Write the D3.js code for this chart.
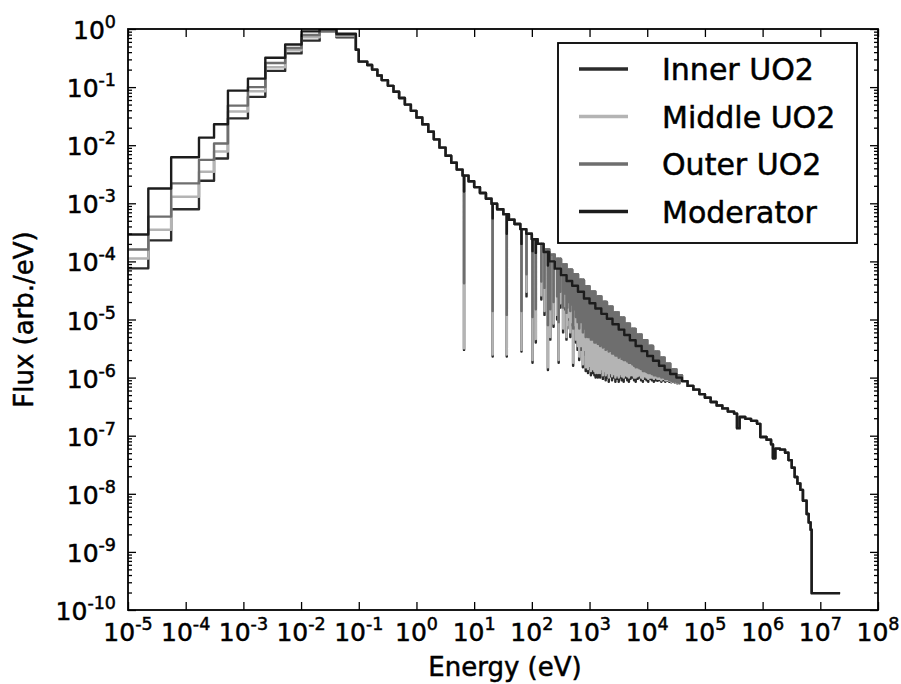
<!DOCTYPE html>
<html><head><meta charset="utf-8">
<script src="https://cdn.jsdelivr.net/npm/d3@7"></script>
<style>
body{margin:0;background:#fff}
text{font-family:"DejaVu Sans",sans-serif;fill:#000;stroke:#000;stroke-width:0.5px}
</style>
</head><body>
<svg id="c" width="901" height="684"></svg>
<script>
// ---------- DATA ----------
const seriesNames = ["Inner UO2", "Middle UO2", "Outer UO2", "Moderator"];
const seriesColors = ["#2b2b2b", "#b4b4b4", "#6e6e6e", "#1c1c1c"];

// thermal histogram bins (lower edges, eV)
const thermalEdges = [1e-5, 2.25e-5, 5.6e-5, 1.7e-4, 3.1e-4, 5.4e-4, 1.2e-3, 2.4e-3, 5.3e-3, 1.02e-2, 2.1e-2, 4.1e-2];
const innerThermal  = [7.6e-5, 2.3e-4, 7.9e-4, 2.45e-3, 5.9e-3, 2.9e-2, 6.8e-2, 0.19, 0.38, 0.63, 0.91, 0.72];
const middleThermal = [1.12e-4, 3.5e-4, 1.3e-3, 3.5e-3, 7.8e-3, 3.8e-2, 8.5e-2, 0.22, 0.43, 0.72, 0.95, 0.76];
const outerThermal  = [1.6e-4, 5.9e-4, 2.2e-3, 5.6e-3, 1.07e-2, 4.8e-2, 0.10, 0.26, 0.47, 0.79, 0.98, 0.79];
const modThermal    = [2.9e-4, 1.8e-3, 6.2e-3, 1.35e-2, 2.3e-2, 8.7e-2, 0.14, 0.32, 0.54, 0.91, 0.99, 0.83];

// slowing-down / fast groups (lower edges, eV)
const envE = [0.089, 0.1, 0.14, 0.17, 0.21, 0.25, 0.32, 0.4, 0.5, 0.63,
  0.8, 1, 1.26, 1.6, 2, 2.5, 3.2, 4, 5, 6.3,
  8, 10, 12.6, 16, 20, 25, 32, 40, 50, 63,
  80, 100, 126, 160, 200, 250, 320, 400, 500, 630,
  800, 1000, 1260, 1600, 2000, 2500, 3200, 4000, 5000, 6300,
  8000, 1e4, 1.26e4, 1.6e4, 2e4, 2.5e4, 3.2e4, 4e4, 5e4, 6.3e4,
  8e4, 1e5, 1.26e5, 1.6e5, 2e5, 2.5e5, 3.2e5, 3.6e5, 4e5, 5e5,
  6.3e5, 8e5, 9.1e5, 1.17e6, 1.4e6, 1.51e6, 1.66e6, 2e6, 2.45e6, 2.8e6,
  3.2e6, 3.6e6, 4e6, 4.5e6, 5e6, 5.8e6, 6.3e6, 6.8e6, 7.1e6, 2.2e7];
// fuel-region flux between resonances
const fuelEnvF = [0.44, 0.275, 0.24, 0.20, 0.158, 0.132, 0.105, 0.083, 0.065, 0.050,
  0.039, 0.030, 0.023, 0.017, 0.0126, 0.0091, 0.0066, 0.0050, 0.0038, 0.0030,
  0.0024, 0.0019, 0.0015, 0.0012, 9.8e-4, 7.9e-4, 6.5e-4, 5.2e-4, 4.4e-4, 3.6e-4,
  3.0e-4, 2.4e-4, 2.0e-4, 1.6e-4, 1.3e-4, 1.1e-4, 8.9e-5, 7.2e-5, 6.0e-5, 4.8e-5,
  3.7e-5, 3.0e-5, 2.5e-5, 2.0e-5, 1.66e-5, 1.32e-5, 1.07e-5, 8.5e-6, 6.9e-6, 5.5e-6,
  4.4e-6, 3.5e-6, 2.8e-6, 2.2e-6, 1.74e-6, 1.38e-6, 1.10e-6, 8.7e-7, 7.2e-7, 6.2e-7,
  5.2e-7, 4.5e-7, 3.8e-7, 3.3e-7, 2.95e-7, 2.6e-7, 2.4e-7, 1.35e-7, 2.1e-7, 1.95e-7,
  1.8e-7, 1.6e-7, 9.5e-8, 8.5e-8, 7.1e-8, 4.1e-8, 6.0e-8, 5.75e-8, 5.1e-8, 3.8e-8,
  2.8e-8, 1.95e-8, 1.5e-8, 1.17e-8, 7.6e-9, 4.5e-9, 3.2e-9, 2.4e-9, 1.95e-10, 1.95e-10];
// moderator flux (lower than fuel peaks in the unresolved range)
const modEnvF = [0.44, 0.275, 0.24, 0.20, 0.158, 0.132, 0.105, 0.083, 0.065, 0.050,
  0.039, 0.030, 0.023, 0.017, 0.0126, 0.0091, 0.0066, 0.0050, 0.0038, 0.0030,
  0.0024, 0.0019, 0.0015, 0.0012, 9.8e-4, 7.9e-4, 6.5e-4, 5.2e-4, 4.4e-4, 3.6e-4,
  3.0e-4, 2.4e-4, 2.0e-4, 1.45e-4, 1.0e-4, 7.5e-5, 5.8e-5, 4.6e-5, 3.8e-5, 3.0e-5,
  2.3e-5, 1.9e-5, 1.55e-5, 1.25e-5, 1.03e-5, 8.3e-6, 6.7e-6, 5.4e-6, 4.4e-6, 3.5e-6,
  2.85e-6, 2.35e-6, 1.95e-6, 1.6e-6, 1.35e-6, 1.15e-6, 1.0e-6, 8.7e-7, 7.2e-7, 6.2e-7,
  5.2e-7, 4.5e-7, 3.8e-7, 3.3e-7, 2.95e-7, 2.6e-7, 2.4e-7, 1.35e-7, 2.1e-7, 1.95e-7,
  1.8e-7, 1.6e-7, 9.5e-8, 8.5e-8, 7.1e-8, 4.1e-8, 6.0e-8, 5.75e-8, 5.1e-8, 3.8e-8,
  2.8e-8, 1.95e-8, 1.5e-8, 1.17e-8, 7.6e-9, 4.5e-9, 3.2e-9, 2.4e-9, 1.95e-10, 1.95e-10];

// resonance energies (eV) and flux at the bottom of each dip, per fuel region
const resE = [6.67, 20.9, 36.7, 66.0, 80.7, 102.5, 116.9, 145.7, 165.3, 189.6,
  208.5, 237.4, 273.7, 291.0, 311.0, 347.8, 376.9, 397.6, 410.3, 433.9,
  463.0, 478.5, 518.5, 535.3, 580.2, 594.7, 619.9, 661.1, 692.8, 708.2,
  721.6, 765.2, 779.9, 821.5, 856.2, 905.0, 937.8, 959.1, 991.6, 1023,
  1054, 1098, 1140, 1177, 1211, 1245, 1272, 1316, 1393, 1427,
  1474, 1522, 1600, 1700, 1800, 1900, 2000, 2150, 2300, 2450,
  2600, 2800, 3000, 3200, 3400, 3600, 3900, 4200, 4500, 4800,
  5100, 5500, 5900, 6300, 6800, 7300, 7800, 8400, 9000, 9700,
  1.04e4, 1.12e4, 1.2e4, 1.3e4, 1.4e4, 1.5e4, 1.6e4, 1.75e4, 1.9e4, 2.05e4,
  2.2e4, 2.4e4, 2.6e4, 2.8e4, 3.0e4, 3.3e4, 3.6e4];
const innerRes = [3.0e-6, 2.3e-6, 2.3e-6, 2.8e-6, 2.5e-5, 1.8e-6, 4.0e-6, 2.2e-5, 1.2e-5, 1.35e-6,
  4.5e-6, 7.5e-6, 1.0e-5, 1.8e-6, 1.6e-5, 6e-6, 1.5e-5, 4.5e-6, 7e-6, 1.0e-5,
  5e-6, 8e-6, 1.6e-6, 7e-6, 4e-6, 6e-6, 3e-6, 2e-6, 5e-6, 3e-6,
  7e-6, 1.5e-6, 5e-6, 2.5e-6, 1.3e-6, 3e-6, 1.2e-6, 4e-6, 1.4e-6, 2.5e-6,
  1.1e-6, 1.5e-6, 1.2e-6, 2e-6, 1.1e-6, 1.6e-6, 1.0e-6, 1.3e-6, 1.0e-6, 1.4e-6,
  1.1e-6, 1.0e-6, 1.2e-6, 9.5e-7, 1.1e-6, 9e-7, 1.0e-6, 8.5e-7, 1.05e-6, 9e-7,
  1.0e-6, 8.5e-7, 9.5e-7, 8.5e-7, 1.0e-6, 9e-7, 8.5e-7, 1.0e-6, 9e-7, 8.5e-7,
  9.5e-7, 1.0e-6, 9e-7, 8.5e-7, 9.5e-7, 1.0e-6, 9e-7, 8.5e-7, 9.5e-7, 9e-7,
  8.5e-7, 9.5e-7, 9e-7, 8.5e-7, 9e-7, 8.8e-7, 9e-7, 8.5e-7, 9e-7, 8.5e-7,
  8.8e-7, 8.5e-7, 8.3e-7, 8.5e-7, 8.2e-7, 8.0e-7, 8.0e-7];
const middleRes = [3.2e-6, 2.5e-6, 2.5e-6, 3.0e-6, 3.0e-5, 2.0e-6, 4.6e-6, 2.6e-5, 1.4e-5, 1.5e-6,
  5e-6, 8.5e-6, 1.2e-5, 2.0e-6, 1.9e-5, 7e-6, 1.7e-5, 5e-6, 8e-6, 1.1e-5,
  6e-6, 9e-6, 1.8e-6, 8e-6, 4.5e-6, 7e-6, 3.5e-6, 2.3e-6, 6e-6, 3.5e-6,
  8e-6, 1.7e-6, 6e-6, 3e-6, 1.5e-6, 3.5e-6, 1.4e-6, 4.5e-6, 1.6e-6, 2.8e-6,
  1.3e-6, 1.7e-6, 1.4e-6, 2.3e-6, 1.3e-6, 1.8e-6, 1.2e-6, 1.5e-6, 1.2e-6, 1.6e-6,
  1.3e-6, 1.2e-6, 1.4e-6, 1.1e-6, 1.3e-6, 1.1e-6, 1.2e-6, 1.0e-6, 1.2e-6, 1.05e-6,
  1.15e-6, 1.0e-6, 1.1e-6, 1.0e-6, 1.15e-6, 1.05e-6, 1.0e-6, 1.1e-6, 1.05e-6, 1.0e-6,
  1.1e-6, 1.1e-6, 1.0e-6, 1.0e-6, 1.05e-6, 1.1e-6, 1.0e-6, 9.5e-7, 1.05e-6, 1.0e-6,
  9.5e-7, 1.0e-6, 1.0e-6, 9.5e-7, 1.0e-6, 9.5e-7, 9.5e-7, 9e-7, 9.5e-7, 9e-7,
  9e-7, 8.8e-7, 8.5e-7, 8.6e-7, 8.3e-7, 8.1e-7, 8.0e-7];
const outerRes = [4.2e-5, 1.4e-5, 1.2e-5, 1.4e-5, 6.0e-5, 1.1e-5, 1.5e-5, 4.5e-5, 3.5e-5, 8e-6,
  1.5e-5, 2e-5, 2.5e-5, 9e-6, 3e-5, 1.6e-5, 2.8e-5, 1.3e-5, 1.6e-5, 2e-5,
  1.4e-5, 1.8e-5, 7e-6, 1.5e-5, 1.1e-5, 1.3e-5, 9e-6, 7e-6, 1.2e-5, 9e-6,
  1.4e-5, 6e-6, 1.1e-5, 7e-6, 5e-6, 7e-6, 5e-6, 9e-6, 5e-6, 6e-6,
  4.5e-6, 5e-6, 4.5e-6, 5.5e-6, 4e-6, 5e-6, 4e-6, 4.5e-6, 3.8e-6, 4.2e-6,
  3.8e-6, 3.5e-6, 3.6e-6, 3.3e-6, 3.4e-6, 3e-6, 3.1e-6, 2.8e-6, 2.9e-6, 2.6e-6,
  2.6e-6, 2.4e-6, 2.4e-6, 2.2e-6, 2.3e-6, 2.1e-6, 2e-6, 2e-6, 1.9e-6, 1.8e-6,
  1.8e-6, 1.7e-6, 1.6e-6, 1.5e-6, 1.5e-6, 1.45e-6, 1.4e-6, 1.3e-6, 1.3e-6, 1.25e-6,
  1.2e-6, 1.2e-6, 1.15e-6, 1.1e-6, 1.1e-6, 1.05e-6, 1.05e-6, 1.0e-6, 1.0e-6, 9.5e-7,
  9.5e-7, 9e-7, 8.8e-7, 8.8e-7, 8.5e-7, 8.2e-7, 8.1e-7];
// small dips of the moderator flux at the strongest resonances
const modResE = [6.67, 20.9, 36.7, 66.0, 102.5, 116.9, 189.6];
const modResF = [1.6e-3, 5.5e-4, 3.0e-4, 2.0e-4, 1.5e-4, 1.4e-4, 8.5e-5];

const xTickExps = [-5, -4, -3, -2, -1, 0, 1, 2, 3, 4, 5, 6, 7, 8];
const yTickExps = [-10, -9, -8, -7, -6, -5, -4, -3, -2, -1, 0];

// ---------- BUILD ----------
function buildSeries(thermal, envFlux, dipE, dipF) {
  const pts = thermalEdges.map((e, i) => [e, thermal[i]]);
  let j = 0;
  for (let i = 0; i < envE.length; i++) {
    pts.push([envE[i], envFlux[i]]);
    const next = i + 1 < envE.length ? envE[i + 1] : Infinity;
    while (j < dipE.length && dipE[j] < next) {
      if (dipE[j] >= envE[i]) {
        pts.push([dipE[j], dipF[j]]);
        pts.push([dipE[j] * 1.004, envFlux[i]]);
      }
      j++;
    }
  }
  return pts;
}
const seriesData = [
  buildSeries(innerThermal, fuelEnvF, resE, innerRes),
  buildSeries(middleThermal, fuelEnvF, resE, middleRes),
  buildSeries(outerThermal, fuelEnvF, resE, outerRes),
  buildSeries(modThermal, modEnvF, modResE, modResF)
];

// ---------- DRAW ----------
const svg = d3.select("#c");
const L = 128, R = 878, T = 29, B = 610;
const x = d3.scaleLog().domain([1e-5, 1e8]).range([L, R]);
const y = d3.scaleLog().domain([1e-10, 1]).range([B, T]);

svg.append("rect").attr("width", 901).attr("height", 684).attr("fill", "#fff");

svg.append("defs").append("clipPath").attr("id", "clip")
  .append("rect").attr("x", L).attr("y", T).attr("width", R - L).attr("height", B - T);

const line = d3.line().x(d => x(d[0])).y(d => y(d[1])).curve(d3.curveStepAfter);
const gLines = svg.append("g").attr("clip-path", "url(#clip)");
seriesData.forEach((d, i) => {
  gLines.append("path").datum(d)
    .attr("d", line)
    .attr("fill", "none")
    .attr("stroke", seriesColors[i])
    .attr("stroke-width", 2.4)
    .attr("stroke-linejoin", "round");
});

// axes
const xTicks = xTickExps.map(e => Math.pow(10, e));
const yTicks = yTickExps.map(e => Math.pow(10, e));
const yMinor = [];
yTickExps.slice(0, -1).forEach(e => { for (let k = 2; k <= 9; k++) yMinor.push(k * Math.pow(10, e)); });

function styleAxis(g) {
  g.select(".domain").remove();
  g.selectAll(".tick line").attr("stroke", "#000").attr("stroke-width", 1.3);
  g.selectAll(".tick text").remove();
}
svg.append("g").attr("transform", `translate(0,${B})`)
  .call(d3.axisBottom(x).tickValues(xTicks).tickSizeInner(-8).tickSizeOuter(0)).call(styleAxis);
svg.append("g").attr("transform", `translate(0,${T})`)
  .call(d3.axisTop(x).tickValues(xTicks).tickSizeInner(-8).tickSizeOuter(0)).call(styleAxis);
svg.append("g").attr("transform", `translate(${L},0)`)
  .call(d3.axisLeft(y).tickValues(yTicks).tickSizeInner(-8).tickSizeOuter(0)).call(styleAxis);
svg.append("g").attr("transform", `translate(${L},0)`)
  .call(d3.axisLeft(y).tickValues(yMinor).tickSizeInner(-4).tickSizeOuter(0)).call(styleAxis);
svg.append("g").attr("transform", `translate(${R},0)`)
  .call(d3.axisRight(y).tickValues(yTicks).tickSizeInner(-8).tickSizeOuter(0)).call(styleAxis);
svg.append("g").attr("transform", `translate(${R},0)`)
  .call(d3.axisRight(y).tickValues(yMinor).tickSizeInner(-4).tickSizeOuter(0)).call(styleAxis);

svg.append("rect").attr("x", L).attr("y", T).attr("width", R - L).attr("height", B - T)
  .attr("fill", "none").attr("stroke", "#000").attr("stroke-width", 1.8);

// tick labels
const fs = 25;
xTickExps.forEach(e => {
  const t = svg.append("text").attr("x", x(Math.pow(10, e))).attr("y", B + 31)
    .attr("text-anchor", "middle").attr("font-size", fs);
  t.append("tspan").text("10");
  t.append("tspan").attr("font-size", fs * 0.7).attr("dy", -11).text(String(e));
});
yTickExps.forEach(e => {
  const t = svg.append("text").attr("x", 116).attr("y", y(Math.pow(10, e)) + 10)
    .attr("text-anchor", "end").attr("font-size", fs);
  t.append("tspan").text("10");
  t.append("tspan").attr("font-size", fs * 0.7).attr("dy", -11).text(String(e));
});

// axis titles
svg.append("text").attr("x", 505).attr("y", 676).attr("text-anchor", "middle")
  .attr("font-size", 26).text("Energy (eV)");
svg.append("text").attr("transform", `translate(33,${(T + B) / 2}) rotate(-90)`)
  .attr("text-anchor", "middle").attr("font-size", 26).text("Flux (arb./eV)");

// legend
const lg = svg.append("g");
lg.append("rect").attr("x", 558).attr("y", 43).attr("width", 299).attr("height", 200)
  .attr("fill", "#fff").attr("stroke", "#000").attr("stroke-width", 1.8);
seriesNames.forEach((n, i) => {
  const cy = 69 + i * 47.5;
  lg.append("line").attr("x1", 579).attr("x2", 628).attr("y1", cy).attr("y2", cy)
    .attr("stroke", seriesColors[i]).attr("stroke-width", 3.5);
  lg.append("text").attr("x", 662).attr("y", cy + 11).attr("font-size", 30).text(n);
});
</script>
</body></html>
